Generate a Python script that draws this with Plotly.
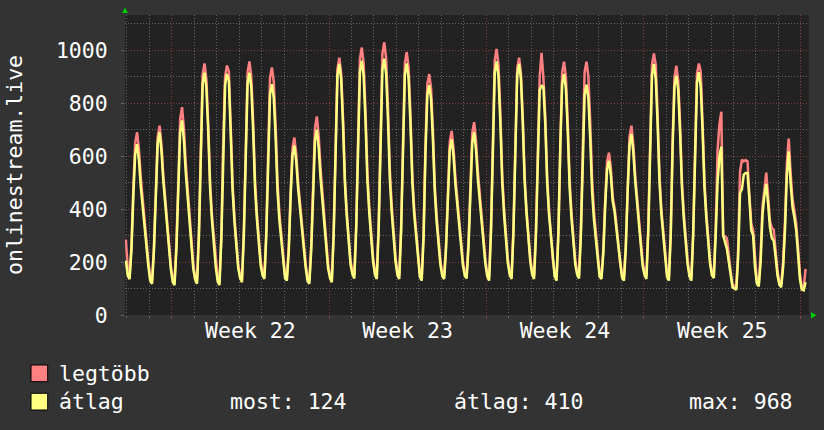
import pandas as pd
import plotly.graph_objects as go

# 2-hourly samples (odd hours), starting 2023-05-26 23:00
# "legtöbb" (maximum) series, split by ISO week
legtobb_w21 = [285,
    175, 148, 267, 484, 652, 690, 625, 517, 435, 376, 294, 202,
    142, 130, 259, 493, 674, 715, 645, 528, 440, 376, 288, 189]
legtobb_w22 = [
    139, 126, 271, 535, 739, 785, 706, 574, 475, 403, 304, 192,
    146, 130, 310, 663, 909, 950, 893, 720, 499, 376, 286, 196,
    141, 125, 305, 656, 901, 942, 920, 713, 493, 370, 280, 190,
    152, 136, 317, 670, 917, 958, 900, 728, 506, 383, 292, 202,
    164, 148, 321, 660, 896, 935, 880, 715, 502, 384, 298, 211,
    153, 142, 258, 469, 633, 670, 607, 501, 422, 364, 285, 195,
    142, 130, 266, 514, 707, 750, 676, 552, 459, 390, 297, 192]
legtobb_w23 = [
    153, 136, 320, 679, 930, 972, 913, 738, 512, 387, 295, 203,
    167, 150, 339, 709, 967, 1010, 950, 769, 537, 408, 313, 219,
    166, 148, 342, 721, 986, 1030, 968, 783, 545, 413, 316, 219,
    165, 148, 334, 697, 951, 993, 934, 756, 528, 402, 309, 216,
    157, 142, 311, 641, 872, 910, 856, 695, 488, 372, 288, 203,
    159, 148, 268, 487, 657, 695, 629, 520, 438, 378, 296, 203,
    162, 150, 277, 508, 688, 728, 659, 543, 456, 393, 306, 208]
legtobb_w24 = [
    159, 142, 332, 703, 962, 1005, 945, 763, 530, 401, 306, 211,
    164, 148, 329, 684, 931, 972, 914, 741, 519, 395, 305, 214,
    164, 148, 320, 680, 900, 990, 895, 750, 520, 395, 305, 212,
    158, 142, 321, 672, 916, 957, 900, 729, 509, 387, 297, 207,
    166, 150, 328, 675, 917, 957, 901, 731, 513, 392, 303, 215,
    157, 148, 250, 436, 580, 613, 557, 445, 405, 345, 272, 195,
    154, 142, 268, 497, 675, 715, 646, 532, 446, 383, 297, 199]
legtobb_w25 = [
    165, 148, 333, 694, 946, 988, 945, 753, 526, 400, 308, 215,
    158, 142, 318, 661, 901, 941, 885, 717, 502, 382, 294, 206,
    158, 142, 320, 667, 910, 950, 920, 724, 506, 384, 296, 207,
    162, 152, 330, 620, 720, 768, 300, 298, 290, 215, 165, 115,
    110, 105, 250, 540, 587, 580, 585, 580, 450, 345, 320, 200,
    128, 117, 230, 410, 480, 538, 450, 355, 328, 322, 245, 165,
    125, 115, 200, 350, 570, 666, 540, 440, 395, 345, 255, 155]
legtobb_w26 = [104, 100, 174]

# "átlag" (average) series
atlag_w21 = [205,
    150, 135, 247, 451, 609, 645, 584, 482, 405, 349, 273, 186,
    130, 118, 244, 473, 650, 690, 621, 507, 421, 358, 272, 175]
atlag_w22 = [
    125, 113, 250, 499, 691, 735, 660, 536, 443, 374, 281, 175,
    134, 118, 293, 636, 875, 915, 859, 692, 477, 357, 269, 182,
    129, 113, 288, 631, 870, 910, 885, 687, 472, 352, 264, 177,
    140, 124, 298, 638, 875, 915, 860, 694, 480, 361, 274, 187,
    151, 136, 298, 614, 835, 872, 820, 666, 467, 357, 276, 195,
    140, 130, 242, 446, 604, 640, 579, 477, 400, 344, 268, 181,
    130, 118, 246, 479, 659, 700, 630, 514, 426, 362, 275, 176]
atlag_w23 = [
    140, 124, 305, 660, 907, 948, 890, 717, 495, 371, 281, 190,
    154, 138, 319, 672, 919, 960, 902, 730, 508, 385, 294, 204,
    153, 136, 319, 677, 926, 968, 910, 735, 510, 386, 294, 203,
    152, 136, 315, 665, 909, 950, 893, 722, 502, 380, 291, 201,
    145, 130, 292, 610, 831, 868, 816, 661, 462, 351, 270, 189,
    147, 136, 252, 463, 626, 663, 600, 494, 415, 357, 278, 189,
    149, 138, 259, 480, 651, 690, 624, 513, 431, 370, 287, 193]
atlag_w24 = [
    147, 130, 312, 668, 917, 958, 900, 726, 503, 378, 287, 196,
    152, 136, 315, 664, 907, 948, 891, 721, 501, 380, 290, 201,
    152, 136, 300, 640, 850, 865, 862, 720, 500, 378, 289, 200,
    146, 130, 302, 637, 871, 910, 855, 692, 481, 364, 278, 192,
    153, 138, 299, 614, 833, 870, 819, 665, 467, 358, 277, 197,
    145, 136, 234, 413, 551, 582, 528, 430, 390, 323, 256, 181,
    141, 130, 252, 473, 644, 683, 617, 506, 423, 362, 279, 185]
atlag_w25 = [
    152, 136, 315, 664, 907, 948, 891, 721, 501, 380, 290, 201,
    145, 130, 300, 633, 865, 904, 850, 687, 478, 362, 277, 192,
    146, 130, 303, 642, 878, 917, 862, 697, 484, 366, 280, 193,
    150, 140, 300, 500, 600, 635, 300, 275, 250, 200, 150, 105,
    100, 95, 220, 460, 475, 530, 536, 536, 440, 320, 300, 180,
    120, 108, 200, 380, 450, 495, 420, 330, 290, 280, 220, 150,
    115, 105, 180, 320, 530, 618, 500, 410, 370, 320, 230, 135]
atlag_w26 = [96, 93, 124]

stat_labels = ["most:", "átlag:", "max:"]
stat_values = [124, 410, 968]
series_names = ["legtöbb", "átlag"]
series_colors = ["#ff8080", "#ffff80"]
y_title = "onlinestream.live"

legtobb = legtobb_w21 + legtobb_w22 + legtobb_w23 + legtobb_w24 + legtobb_w25 + legtobb_w26
atlag = atlag_w21 + atlag_w22 + atlag_w23 + atlag_w24 + atlag_w25 + atlag_w26
times = pd.date_range("2023-05-26 23:00", periods=len(atlag), freq="2h")

FONT = "DejaVu Sans Mono"
FS = 21.5
MGRID = "#8a3c3c"
GRID = "#666666"
DASH = "1px,2px"

fig = go.Figure()
fig.add_trace(go.Scatter(x=times, y=legtobb, mode="lines", name=series_names[0],
                         line=dict(color=series_colors[0], width=2.5)))
fig.add_trace(go.Scatter(x=times, y=atlag, mode="lines", name=series_names[1],
                         line=dict(color=series_colors[1], width=2.5)))

fig.update_layout(
    width=824, height=430,
    margin=dict(l=125, r=15, t=15, b=115),
    paper_bgcolor="#333333", plot_bgcolor="#222222",
    showlegend=False,
    font=dict(family=FONT, size=FS, color="#ffffff"),
)
fig.update_xaxes(
    type="date", range=["2023-05-26 22:05", "2023-06-26 08:40"],
    tick0="2023-05-29", dtick=7 * 86400000,
    ticklabelmode="period", tickformat="Week %V",
    showgrid=True, gridcolor=MGRID, griddash=DASH, gridwidth=1,
    ticks="outside", ticklen=3, tickcolor=MGRID,
    ticklabelstandoff=-7,
    minor=dict(tick0="2023-05-27", dtick=86400000, showgrid=True, gridcolor=GRID,
               griddash=DASH, ticks="outside", ticklen=2, tickcolor=GRID),
    zeroline=False, showline=False,
    tickfont=dict(family=FONT, size=FS, color="#ffffff"),
)
fig.update_yaxes(
    range=[0, 1133], tick0=0, dtick=200,
    showgrid=True, gridcolor=MGRID, griddash=DASH, gridwidth=1,
    ticks="outside", ticklen=3, tickcolor="#666666",
    minor=dict(dtick=100, showgrid=True, gridcolor=GRID, griddash=DASH),
    zeroline=False, showline=False,
    ticklabelstandoff=9,
    tickfont=dict(family=FONT, size=FS, color="#ffffff"),
)

W, H = 684.0, 300.0
def px(x):
    return (x - 125) / W
def py(y):
    return (315 - y) / H

# y-axis title
fig.add_annotation(text=y_title, xref="paper", yref="paper", x=px(14), y=0.5,
                   textangle=-90, showarrow=False, xanchor="center", yanchor="middle",
                   font=dict(family=FONT, size=FS, color="#ffffff"))

# axis arrows
green = "#00cc00"
fig.add_shape(type="path", xref="paper", yref="paper",
              path=f"M {px(122)} {py(13)} L {px(128)} {py(13)} L {px(125)} {py(7.5)} Z",
              fillcolor=green, line=dict(width=0))
fig.add_shape(type="path", xref="paper", yref="paper",
              path=f"M {px(811)} {py(312)} L {px(811)} {py(318.5)} L {px(816.5)} {py(315.2)} Z",
              fillcolor=green, line=dict(width=0))

# legend boxes
for i, (name, col) in enumerate(zip(series_names, series_colors)):
    top = 365 + i * 28.3
    fig.add_shape(type="rect", xref="paper", yref="paper",
                  x0=px(31), x1=px(47.7), y0=py(top + 16.7), y1=py(top),
                  fillcolor=col, line=dict(color="#000000", width=1))
    fig.add_annotation(text=name, xref="paper", yref="paper", x=px(56.5), y=py(top + 8.5),
                       xanchor="left", yanchor="middle", showarrow=False,
                       font=dict(family=FONT, size=FS, color="#ffffff"))

stat_x = [227.5, 451.5, 686.5]
for lab, val, sx in zip(stat_labels, stat_values, stat_x):
    fig.add_annotation(text=f"{lab} {val}", xref="paper", yref="paper", x=px(sx), y=py(373.5 + 28.3),
                       xanchor="left", yanchor="middle", showarrow=False,
                       font=dict(family=FONT, size=FS, color="#ffffff"))

fig.write_html("out.html")
